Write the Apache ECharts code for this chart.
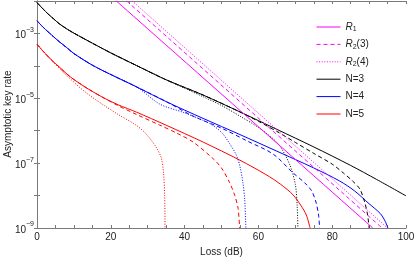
<!DOCTYPE html>
<html><head><meta charset="utf-8">
<script src="https://cdn.jsdelivr.net/npm/echarts@6/dist/echarts.min.js"></script>
<style>html,body{margin:0;padding:0;background:#fff}#c{width:415px;height:257px}</style>
</head><body><div id="c"></div>
<script>
// Loss (dB) and asymptotic key rate values
var r1Loss = [21.5, 91];
var r1Rate = [1e-2, 1e-9];
var r23Loss = [24.3, 93.5];
var r23Rate = [1e-2, 1e-9];
var r24Loss = [25.8, 95];
var r24Rate = [1e-2, 1e-9];

var n3SolidLoss = [0, 1.5, 3, 4.5, 6, 8, 10, 15, 20, 27, 35, 45, 55, 65, 75, 85, 92, 100];
var n3SolidRate = [8.91e-3, 5.9e-3, 3.98e-3, 2.82e-3, 2.0e-3, 1.4e-3, 1.02e-3, 5.01e-4, 2.51e-4, 1.02e-4, 3.72e-5, 1.26e-5, 3.8e-6, 1.1e-6, 3.16e-7, 8.5e-8, 3.16e-8, 9.8e-9];
var n3DashLoss = [0, 1.5, 3, 4.5, 6, 8, 10, 15, 20, 27, 35, 45, 55, 60, 65, 70, 75, 80, 83, 85.5, 87.5, 88.8, 89.6, 90];
var n3DashRate = [8.91e-3, 5.9e-3, 3.98e-3, 2.82e-3, 2.0e-3, 1.4e-3, 1.02e-3, 5.01e-4, 2.51e-4, 1.02e-4, 3.72e-5, 1.26e-5, 3.8e-6, 1.95e-6, 9.5e-7, 4.37e-7, 2.0e-7, 9.3e-8, 5.0e-8, 2.82e-8, 1.58e-8, 6.3e-9, 2.5e-9, 1e-9];
var n3DotLoss = [0, 1.5, 3, 4.5, 6, 8, 10, 15, 20, 27, 35, 45, 50, 55, 60, 64, 66, 68.5, 70, 70.5, 70.7];
var n3DotRate = [8.91e-3, 5.9e-3, 3.98e-3, 2.82e-3, 2.0e-3, 1.4e-3, 1.02e-3, 5.01e-4, 2.51e-4, 1.02e-4, 3.72e-5, 1.12e-5, 6.0e-6, 2.82e-6, 1.26e-6, 5.6e-7, 3.16e-7, 8.9e-8, 2.24e-8, 5.0e-9, 1e-9];

var n4SolidLoss = [0, 1.5, 3, 4.5, 6, 8, 10, 15, 20, 27, 35, 45, 55, 65, 75, 82, 86, 90, 93, 94.3, 95.1];
var n4SolidRate = [2.45e-3, 1.62e-3, 1.12e-3, 7.9e-4, 5.6e-4, 3.7e-4, 2.4e-4, 1.05e-4, 5.4e-5, 2.24e-5, 7.9e-6, 2.4e-6, 7.6e-7, 2.34e-7, 7.1e-8, 2.82e-8, 1.41e-8, 5.6e-9, 2.82e-9, 1.66e-9, 1e-9];
var n4DashLoss = [0, 1.5, 3, 4.5, 6, 8, 10, 15, 20, 27, 35, 42.3, 50, 57, 64, 69.4, 72.5, 74.4, 75.6, 76.3, 76.6];
var n4DashRate = [2.45e-3, 1.62e-3, 1.12e-3, 7.9e-4, 5.6e-4, 3.7e-4, 2.4e-4, 1.05e-4, 5.4e-5, 2.24e-5, 7.9e-6, 2.82e-6, 1.2e-6, 4.8e-7, 1.9e-7, 5.0e-8, 2.5e-8, 1.41e-8, 6.3e-9, 2.5e-9, 1e-9];
var n4DotLoss = [0, 1.5, 3, 4.5, 6, 8, 10, 15, 20, 27, 33.3, 40, 46.8, 50, 52.2, 54, 55, 55.8, 56.3, 56.6];
var n4DotRate = [2.45e-3, 1.62e-3, 1.12e-3, 7.9e-4, 5.6e-4, 3.7e-4, 2.4e-4, 1.05e-4, 5.4e-5, 2.24e-5, 6.6e-6, 3.55e-6, 1.66e-6, 8.9e-7, 4.0e-7, 1.78e-7, 7.9e-8, 2.5e-8, 7.4e-9, 1e-9];

var n5SolidLoss = [0, 1.5, 3, 4.5, 6, 9, 13, 17.5, 22, 27, 35, 45, 55, 62, 66, 69.4, 71.5, 73, 74];
var n5SolidRate = [4.68e-4, 2.95e-4, 1.95e-4, 1.32e-4, 9.3e-5, 4.6e-5, 2.24e-5, 1.12e-5, 6.3e-6, 3.72e-6, 1.48e-6, 4.47e-7, 1.23e-7, 4.47e-8, 2.24e-8, 1.05e-8, 5.0e-9, 2.5e-9, 1e-9];
var n5DashLoss = [0, 1.5, 3, 4.5, 6, 9, 13, 17.5, 22, 27, 33.3, 38, 42.3, 47.7, 50, 52.2, 53.6, 54.5, 54.9];
var n5DashRate = [4.68e-4, 2.95e-4, 1.95e-4, 1.32e-4, 9.3e-5, 4.6e-5, 2.24e-5, 1.12e-5, 5.9e-6, 3.16e-6, 1.48e-6, 8.3e-7, 4.47e-7, 1.38e-7, 7.1e-8, 2.5e-8, 1e-8, 4e-9, 1e-9];
var n5DotLoss = [0, 1.5, 3, 4.5, 6, 9, 13, 17.5, 22, 26.5, 29, 31, 32.5, 33.7, 34.3, 34.6, 34.7];
var n5DotRate = [4.68e-4, 2.95e-4, 1.9e-4, 1.28e-4, 8.5e-5, 4.0e-5, 1.58e-5, 6.8e-6, 3.16e-6, 1.58e-6, 9.3e-7, 5.0e-7, 2.82e-7, 1.41e-7, 5.0e-8, 1e-8, 1e-9];

var xTickLabels = [0, 20, 40, 60, 80, 100];
var yLabelExponents = [-9, -7, -5, -3];
var legendNames = ['R1', 'R2(3)', 'R2(4)', 'N=3', 'N=4', 'N=5'];
var yAxisTitle = 'Asymptotic key rate';

function pairs(a, b) { return a.map(function (v, i) { return [v, b[i]]; }); }

var DASH = [4, 3], DOT = [1, 1.6];
var FONT = 'Liberation Sans, Arial, sans-serif';

function ser(name, lx, ry, color, type) {
  return {
    name: name, type: 'line', data: pairs(lx, ry), showSymbol: false, symbol: 'none',
    smooth: 0.3, clip: true, animation: false,
    lineStyle: { color: color, width: 1, type: type }, itemStyle: { color: color },
    xAxisIndex: 0, yAxisIndex: 0, z: 3
  };
}

var M = '#ff00ff', K = '#000000', B = '#0000ff', R = '#ff0000';
var series = [
  ser('N=5', n5SolidLoss, n5SolidRate, R, 'solid'),
  ser('n5d', n5DashLoss, n5DashRate, R, DASH),
  ser('n5o', n5DotLoss, n5DotRate, R, DOT),
  ser('N=4', n4SolidLoss, n4SolidRate, B, 'solid'),
  ser('n4d', n4DashLoss, n4DashRate, B, DASH),
  ser('n4o', n4DotLoss, n4DotRate, B, DOT),
  ser('N=3', n3SolidLoss, n3SolidRate, K, 'solid'),
  ser('n3d', n3DashLoss, n3DashRate, K, DASH),
  ser('n3o', n3DotLoss, n3DotRate, K, DOT),
  ser('R1', r1Loss, r1Rate, M, 'solid'),
  ser('R2(3)', r23Loss, r23Rate, M, DASH),
  ser('R2(4)', r24Loss, r24Rate, M, DOT)
];

var chart = echarts.init(document.getElementById('c'), null, { renderer: 'canvas' });
var axisGray = '#7a7a7a';
chart.setOption({
  animation: false,
  backgroundColor: '#fff',
  grid: { left: 37, right: 9, top: 1, bottom: 29, containLabel: false, outerBoundsMode: 'none' },
  graphic: [{
    type: 'text', x: 8, y: 114, rotation: Math.PI / 2, silent: true,
    style: { text: yAxisTitle, font: '10px ' + FONT, fill: '#222', align: 'center', verticalAlign: 'middle' }
  }],
  legend: {
    data: legendNames, orient: 'vertical', left: 311, top: 16,
    itemWidth: 24, itemHeight: 10, itemGap: 5.4,
    itemStyle: { opacity: 0, borderWidth: 0 },
    lineStyle: { width: 1 },
    textStyle: {
      fontFamily: FONT, fontSize: 10, color: '#222', lineHeight: 12,
      rich: {
        i: { fontFamily: FONT, fontSize: 10, fontStyle: 'italic', color: '#222', lineHeight: 12 },
        s: { fontFamily: FONT, fontSize: 7, color: '#222', verticalAlign: 'bottom', lineHeight: 12, padding: [3, 0, 0, 0] },
        t: { fontFamily: FONT, fontSize: 10, color: '#222', lineHeight: 12 }
      }
    },
    formatter: function (n) {
      if (n === 'R1') return '{i|R}{s|1}';
      if (n === 'R2(3)') return '{i|R}{s|2}{t|(3)}';
      if (n === 'R2(4)') return '{i|R}{s|2}{t|(4)}';
      return '{t|' + n + '}';
    }
  },
  xAxis: [{
    type: 'value', min: 0, max: 100, interval: 20,
    name: 'Loss (dB)', nameLocation: 'middle', nameGap: 17,
    nameTextStyle: { fontFamily: FONT, fontSize: 10, color: '#222' },
    axisLine: { show: true, lineStyle: { color: axisGray, width: 1 } },
    axisTick: { show: true, inside: true, length: 3, lineStyle: { color: axisGray } },
    minorTick: { show: true, splitNumber: 4, length: 3, lineStyle: { color: axisGray } },
    splitLine: { show: false },
    axisLabel: {
      fontFamily: FONT, fontSize: 10, color: '#222', margin: 4,
      formatter: function (v) { return xTickLabels.indexOf(v) >= 0 ? String(v) : ''; }
    }
  }, {
    type: 'value', min: 0, max: 100, interval: 20, position: 'top',
    axisLine: { show: true, lineStyle: { color: axisGray, width: 1 } },
    axisTick: { show: true, inside: true, length: 3, lineStyle: { color: axisGray } },
    minorTick: { show: true, splitNumber: 4, length: 3, lineStyle: { color: axisGray } },
    splitLine: { show: false }, axisLabel: { show: false }
  }],
  yAxis: [{
    type: 'log', logBase: 10, min: 1e-9, max: 1e-2, splitNumber: 7,
    axisLine: { show: true, lineStyle: { color: axisGray, width: 1 } },
    axisTick: { show: true, inside: true, length: 3, lineStyle: { color: axisGray } },
    minorTick: { show: false },
    splitLine: { show: false },
    axisLabel: {
      margin: 3, color: '#222',
      formatter: function (v) {
        var e = Math.round(Math.log10(v));
        if (yLabelExponents.indexOf(e) < 0) return '';
        return '{b|10}{s|\u2212' + Math.abs(e) + '}';
      },
      rich: {
        b: { fontFamily: FONT, fontSize: 10, color: '#222', lineHeight: 14, verticalAlign: 'bottom' },
        s: { fontFamily: FONT, fontSize: 7, color: '#222', verticalAlign: 'top', lineHeight: 8 }
      }
    }
  }, {
    type: 'log', logBase: 10, min: 1e-9, max: 1e-2, splitNumber: 7, position: 'right',
    axisLine: { show: true, lineStyle: { color: axisGray, width: 1 } },
    axisTick: { show: true, inside: true, length: 3, lineStyle: { color: axisGray } },
    splitLine: { show: false }, axisLabel: { show: false }
  }],
  series: series
});
</script></body></html>
